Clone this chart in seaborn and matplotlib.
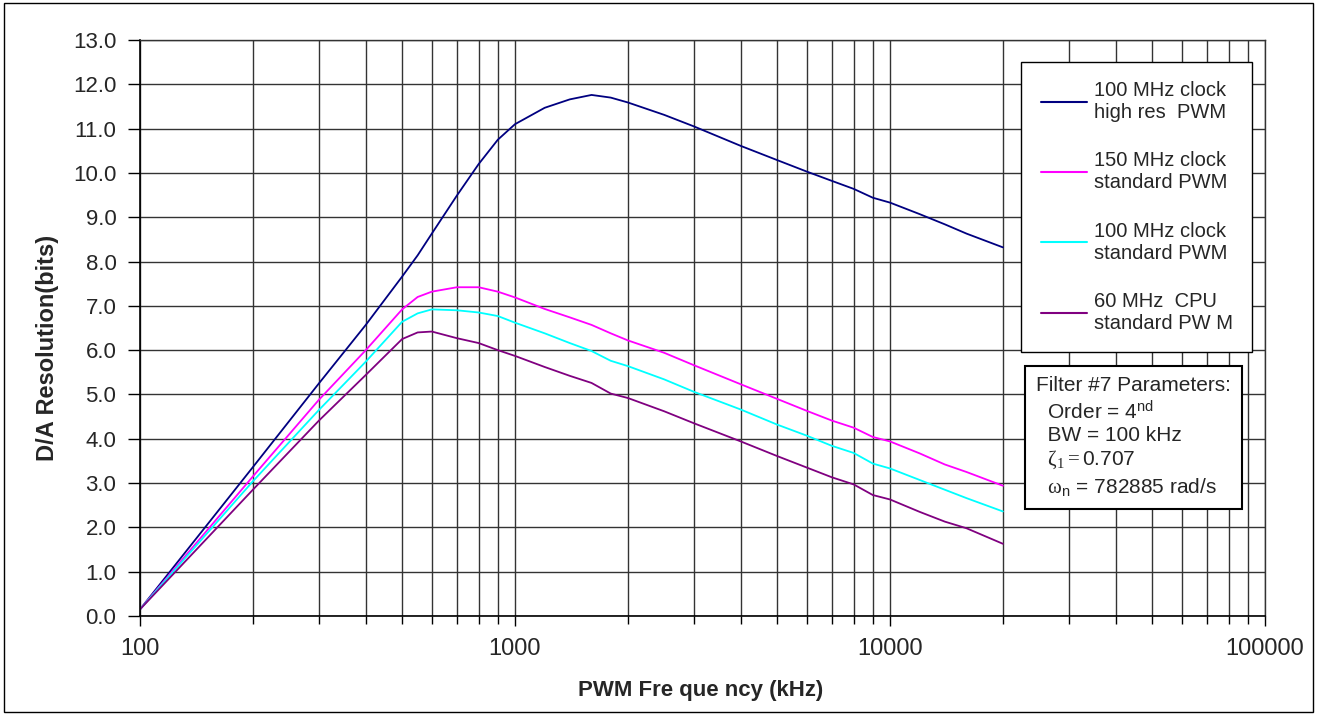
import pandas as pd
import matplotlib.pyplot as plt
import seaborn as sns
from matplotlib.lines import Line2D
from matplotlib.patches import Rectangle
from matplotlib.ticker import FixedLocator, FuncFormatter, NullFormatter, LogLocator

# Frequenzen (kHz) und D/A-Auflösung (bits)
freq = [100, 200, 300, 400, 500, 550, 600, 700, 800, 900, 1000, 1200, 1400, 1600, 1800,
        2000, 2500, 3000, 4000, 5000, 6000, 7000, 8000, 9000, 10000, 12000, 14000, 16000, 20000]

hires_100 = [0.15, 3.36, 5.25, 6.57, 7.66, 8.14, 8.63, 9.49, 10.20, 10.75, 11.10, 11.47, 11.66, 11.76, 11.70,
             11.59, 11.31, 11.05, 10.61, 10.29, 10.03, 9.82, 9.64, 9.44, 9.33, 9.07, 8.84, 8.63, 8.32]
std_150 = [0.15, 3.15, 4.88, 6.00, 6.92, 7.20, 7.32, 7.42, 7.42, 7.32, 7.19, 6.93, 6.74, 6.57, 6.38,
           6.22, 5.94, 5.66, 5.23, 4.90, 4.63, 4.41, 4.25, 4.04, 3.94, 3.67, 3.42, 3.25, 2.94]
std_100 = [0.15, 3.04, 4.65, 5.74, 6.64, 6.83, 6.92, 6.90, 6.85, 6.77, 6.62, 6.38, 6.16, 5.98, 5.76,
           5.64, 5.34, 5.06, 4.66, 4.32, 4.07, 3.84, 3.68, 3.44, 3.33, 3.07, 2.85, 2.66, 2.36]
cpu_60 = [0.15, 2.85, 4.41, 5.44, 6.25, 6.40, 6.42, 6.27, 6.16, 6.00, 5.87, 5.62, 5.42, 5.26, 5.02,
          4.92, 4.62, 4.35, 3.94, 3.61, 3.35, 3.13, 2.97, 2.73, 2.63, 2.35, 2.13, 1.98, 1.63]

labels = ["100 MHz clock\nhigh res  PWM", "150 MHz clock\nstandard PWM",
          "100 MHz clock\nstandard PWM", "60 MHz  CPU\nstandard PW M"]
colors = ["#000080", "#FF00FF", "#00FFFF", "#800080"]
y_ticks = [0, 1, 2, 3, 4, 5, 6, 7, 8, 9, 10, 11, 12, 13]
x_major = [100, 1000, 10000, 100000]

df = pd.DataFrame({
    "freq": freq * 4,
    "bits": hires_100 + std_150 + std_100 + cpu_60,
    "serie": [l for l in labels for _ in freq],
})

sns.set_style("white")
plt.rcParams["font.family"] = ["Liberation Sans", "DejaVu Sans"]
plt.rcParams["mathtext.fontset"] = "custom"
plt.rcParams["mathtext.rm"] = "Liberation Serif"
plt.rcParams["mathtext.sf"] = "Liberation Sans"
plt.rcParams["mathtext.it"] = "Liberation Serif:italic"
plt.rcParams["mathtext.bf"] = "Liberation Serif:bold"

fig = plt.figure(figsize=(13.17, 7.15), dpi=100)
ax = fig.add_axes([140 / 1317, 1 - 616 / 715, 1125 / 1317, 576 / 715])

sns.lineplot(data=df, x="freq", y="bits", hue="serie", hue_order=labels,
             palette=colors, estimator=None, sort=False, legend=False, lw=1.3, ax=ax)

ax.set_xscale("log")
ax.set_xlim(100, 100000)
ax.set_ylim(0, 13)
ax.xaxis.set_major_locator(FixedLocator(x_major))
ax.xaxis.set_minor_locator(LogLocator(base=10, subs=range(2, 10)))
ax.xaxis.set_major_formatter(FuncFormatter(lambda v, p: f"{int(v)}"))
ax.xaxis.set_minor_formatter(NullFormatter())
ax.yaxis.set_major_locator(FixedLocator(y_ticks))
ax.yaxis.set_major_formatter(FuncFormatter(lambda v, p: f"{v:.1f}"))

# Gitter
ax.grid(True, which="both", axis="x", color="#333333", lw=1.0)
ax.grid(True, which="major", axis="y", color="#333333", lw=1.0)
ax.set_axisbelow(True)

ax.tick_params(axis="y", which="major", direction="out", length=9, width=1, pad=8,
               labelsize=16, left=True, color="black")
ax.tick_params(axis="x", which="major", direction="out", length=7, width=1, pad=9,
               labelsize=17, bottom=True, color="black")
ax.tick_params(axis="x", which="minor", direction="out", length=6, width=1, bottom=True, color="black")

for s in ["left", "bottom"]:
    ax.spines[s].set_color("black")
    ax.spines[s].set_linewidth(1.2)
for s in ["top", "right"]:
    ax.spines[s].set_color("#333333")
    ax.spines[s].set_linewidth(1.0)

ax.set_xlabel("PWM Fre que ncy (kHz)", fontsize=16, fontweight="bold")
ax.set_ylabel("D/A Resolution(bits)", fontsize=17, fontweight="bold")
ax.xaxis.set_label_coords(0.4987, -0.111)
ax.yaxis.set_label_coords(-0.072, 0.466)

# Legende
handles = [Line2D([], [], color=c, lw=1.5) for c in colors]
leg = ax.legend(handles, labels, loc="upper right",
                bbox_to_anchor=(1252 / 1317, 1 - 62 / 715), bbox_transform=fig.transFigure,
                fontsize=14.5, frameon=True, fancybox=False, framealpha=1,
                edgecolor="black", handlelength=2.3, handletextpad=0.35,
                labelspacing=1.45, borderpad=0.95, borderaxespad=0)
leg.get_frame().set_linewidth(1.0)

# Filterparameter
txt = ("Filter #7 Parameters:\n"
       "  Order = 4$^{\\mathsf{nd}}$\n"
       "  BW = 100 kHz\n"
       "  $\\mathrm{\\zeta}_{\\mathrm{1}} = $0.707\n"
       "  $\\mathrm{\\omega}_{\\mathsf{n}}$ = 782885 rad/s")
fig.text(1036 / 1317, 1 - 376 / 715, txt, fontsize=15, va="top", ha="left", linespacing=1.25,
         bbox=dict(boxstyle="square,pad=0.55", fc="white", ec="black", lw=1.5))

# Rahmen um die Grafik
fig.add_artist(Rectangle((0.003, 0.004), 0.994, 0.992, transform=fig.transFigure,
                         fill=False, ec="black", lw=1.0))

plt.savefig("out.png", dpi=100)
